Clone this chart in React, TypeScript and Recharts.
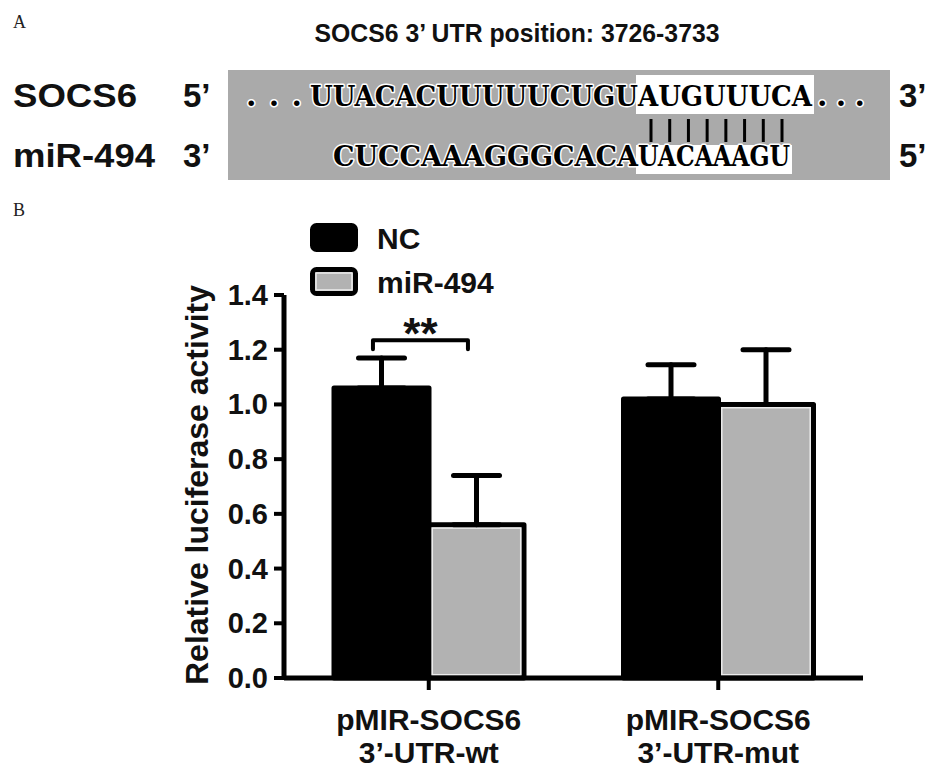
import React from 'react';
import { BarChart, Bar, XAxis, YAxis, ErrorBar, Legend } from 'recharts';

// ---------- data ----------
const categoryKeys = ['wt', 'mut'];
const categoryLine1 = ['pMIR-SOCS6', 'pMIR-SOCS6'];
const categoryLine2 = ['3\u2019-UTR-wt', '3\u2019-UTR-mut'];
const seriesNames = ['NC', 'miR-494'];
const ncValues = [1.06, 1.02];
const ncErrors = [0.11, 0.125];
const mirValues = [0.56, 1.0];
const mirErrors = [0.18, 0.2];
const yTicks = [0, 0.2, 0.4, 0.6, 0.8, 1.0, 1.2, 1.4];
const significance = [{ category: 'wt', level: 1.235, label: '**' }];

const panelTitle = 'SOCS6 3\u2019 UTR position: 3726-3733';
const rowLabels = ['SOCS6', 'miR-494'];
const rowLeftEnds = ['5\u2019', '3\u2019'];
const rowRightEnds = ['3\u2019', '5\u2019'];
const targetFlankLeft = 'UUACACUUUUUCUGU';
const targetSeed = 'AUGUUUCA';
const mirFlank = 'CUCCAAAGGGCACA';
const mirSeed = 'UACAAAGU';

const data = categoryKeys.map((c, i) => ({
  cat: c,
  nc: ncValues[i],
  ncErr: [0, ncErrors[i]],
  mir: mirValues[i],
  mirErr: [0, mirErrors[i]],
}));

const SANS = "'Liberation Sans', Arial, Helvetica, sans-serif";
const NARROW = "'Liberation Sans Narrow', 'Liberation Sans', Arial, sans-serif";
const SERIF = "'Liberation Serif', 'Times New Roman', serif";
const SLAB = "'DejaVu Serif', serif";

const NcShape = (props: any) => {
  const { x, y, width, height, value, payload } = props;
  const v = Array.isArray(value) ? value[1] - value[0] : value;
  const base = y + height;
  const ppu = height / v;
  const sig = significance.find((s) => s.category === payload.cat);
  let bracket = null;
  if (sig) {
    const by = base - sig.level * ppu;
    const x1 = x + width / 2 - 0.09 * width;
    const x2 = x1 + width;
    const drop = 0.033 * ppu;
    bracket = (
      <g>
        <path
          d={`M${x1},${by + drop} L${x1},${by} L${x2},${by} L${x2},${by + drop}`}
          fill="none"
          stroke="#000"
          strokeWidth={4}
          strokeLinejoin="round"
          strokeLinecap="round"
        />
        <text
          x={(x1 + x2) / 2}
          y={by + 9}
          textAnchor="middle"
          fontFamily={SANS}
          fontWeight="bold"
          fontSize={44}
          fill="#111"
        >
          {sig.label}
        </text>
      </g>
    );
  }
  return (
    <g>
      <rect x={x} y={y} width={width} height={height} fill="#000" stroke="#000" strokeWidth={5} strokeLinejoin="round" />
      {bracket}
    </g>
  );
};

const MirShape = (props: any) => {
  const { x, y, width, height } = props;
  return (
    <g>
      <rect x={x} y={y} width={width} height={height} fill="#b2b2b2" stroke="#000" strokeWidth={5} strokeLinejoin="round" />
      <rect x={x + 3.3} y={y + 3.3} width={width - 6.6} height={height - 6.6} fill="none" stroke="#ececec" strokeWidth={1.5} />
    </g>
  );
};

const YTick = (props: any) => {
  const { x, y, payload } = props;
  return (
    <text x={x} y={y} textAnchor="end" dominantBaseline="central" fontFamily={SANS} fontWeight="bold" fontSize={29} fill="#111">
      {Number(payload.value).toFixed(1)}
    </text>
  );
};

const XTick = (props: any) => {
  const { x, y, payload } = props;
  const i = categoryKeys.indexOf(payload.value);
  return (
    <text x={x} y={y} textAnchor="middle" fontFamily={SANS} fontWeight="bold" fontSize={30} fill="#111">
      <tspan x={x} dy={38}>{categoryLine1[i]}</tspan>
      <tspan x={x} dy={33}>{categoryLine2[i]}</tspan>
    </text>
  );
};

const LegendContent = () => (
  <svg width={220} height={90}>
    <rect x={4.5} y={6.5} width={43} height={24} rx={4} fill="#000" stroke="#000" strokeWidth={5} />
    <text x={69} y={19} dominantBaseline="central" fontFamily={SANS} fontWeight="bold" fontSize={30} fill="#111">
      {seriesNames[0]}
    </text>
    <rect x={4.5} y={50.5} width={43} height={24} rx={4} fill="#b2b2b2" stroke="#000" strokeWidth={5} />
    <rect x={8} y={54} width={36} height={17} fill="none" stroke="#ececec" strokeWidth={1.5} />
    <text x={69} y={63} dominantBaseline="central" fontFamily={SANS} fontWeight="bold" fontSize={30} fill="#111">
      {seriesNames[1]}
    </text>
  </svg>
);

const PanelA = () => {
  const pairCount = Math.min(targetSeed.length, mirSeed.length);
  const pairs = [];
  for (let i = 0; i < pairCount; i++) {
    const px = 651 + (i * (782 - 651)) / (pairCount - 1);
    pairs.push(<line key={i} x1={px} x2={px} y1={119} y2={142} stroke="#000" strokeWidth={3} />);
  }
  const seqStyle = {
    fontFamily: SLAB,
    fontWeight: 'bold' as const,
    fontSize: 28,
    fill: '#000',
    stroke: '#fff',
    strokeWidth: 3,
    paintOrder: 'stroke' as const,
    strokeLinejoin: 'round' as const,
  };
  const dotStyle = { ...seqStyle, fontSize: 30 };
  const r1 = 106; // baseline row 1
  const r2 = 166; // baseline row 2
  const lab = { fontFamily: SANS, fontWeight: 'bold' as const, fontSize: 33, fill: '#111' };
  return (
    <svg width={945} height={783} style={{ position: 'absolute', left: 0, top: 0, pointerEvents: 'none' }}>
      <text x={13} y={28} fontFamily={SERIF} fontSize={18} fill="#222">A</text>
      <text x={517} y={42} textAnchor="middle" fontFamily={NARROW} fontWeight="bold" fontSize={25} textLength={405} lengthAdjust="spacingAndGlyphs" fill="#111">
        {panelTitle}
      </text>
      <rect x={228} y={70} width={662} height={110} fill="#aaaaaa" />
      <rect x={636} y={75} width={178} height={39} fill="#fff" />
      <rect x={636} y={145} width={156} height={29} fill="#fff" />
      <text x={246} y={r1} textLength={56} lengthAdjust="spacing" style={dotStyle}>...</text>
      <text x={310} y={r1} textLength={328} lengthAdjust="spacingAndGlyphs" style={seqStyle}>{targetFlankLeft}</text>
      <text x={638} y={r1} textLength={174} lengthAdjust="spacingAndGlyphs" style={seqStyle}>{targetSeed}</text>
      <text x={817} y={r1} textLength={48} lengthAdjust="spacing" style={dotStyle}>...</text>
      <text x={333} y={r2} textLength={305} lengthAdjust="spacingAndGlyphs" style={seqStyle}>{mirFlank}</text>
      <text x={638} y={r2} textLength={152} lengthAdjust="spacingAndGlyphs" style={seqStyle}>{mirSeed}</text>
      {pairs}
      <text x={13} y={r1 + 1} textLength={124} lengthAdjust="spacingAndGlyphs" {...lab}>{rowLabels[0]}</text>
      <text x={183} y={r1 + 1} {...lab}>{rowLeftEnds[0]}</text>
      <text x={899} y={r1 + 1} {...lab}>{rowRightEnds[0]}</text>
      <text x={13} y={r2 + 1} textLength={142} lengthAdjust="spacingAndGlyphs" {...lab}>{rowLabels[1]}</text>
      <text x={183} y={r2 + 1} {...lab}>{rowLeftEnds[1]}</text>
      <text x={899} y={r2 + 1} {...lab}>{rowRightEnds[1]}</text>
      <text x={13} y={216} fontFamily={SERIF} fontSize={18} fill="#222">B</text>
      <text
        x={0}
        y={0}
        transform="translate(208,485) rotate(-90)"
        textAnchor="middle"
        fontFamily={SANS}
        fontWeight="bold"
        fontSize={31}
        textLength={400}
        lengthAdjust="spacingAndGlyphs"
        fill="#111"
      >
        Relative luciferase activity
      </text>
    </svg>
  );
};

export default function App() {
  return (
    <div style={{ position: 'fixed', left: 0, top: 0, width: 945, height: 783, background: '#fff', overflow: 'hidden' }}>
      <BarChart
        width={945}
        height={783}
        data={data}
        margin={{ top: 295, right: 82, left: 0, bottom: 0 }}
        barGap={0}
        barSize={95}
        style={{ position: 'absolute', left: 0, top: 0 }}
      >
        <XAxis
          dataKey="cat"
          height={105}
          tick={<XTick />}
          tickSize={12}
          axisLine={{ stroke: '#000', strokeWidth: 5 }}
          tickLine={{ stroke: '#000', strokeWidth: 4 }}
          interval={0}
        />
        <YAxis
          width={284}
          domain={[0, 1.4]}
          ticks={yTicks}
          tick={<YTick />}
          tickSize={10}
          tickMargin={6}
          axisLine={{ stroke: '#000', strokeWidth: 5 }}
          tickLine={{ stroke: '#000', strokeWidth: 4 }}
          interval={0}
        />
        <Legend
          layout="horizontal"
          verticalAlign="middle"
          align="center"
          wrapperStyle={{ position: 'absolute', left: 308, top: 219, width: 220, height: 90 }}
          content={<LegendContent />}
        />
        <Bar dataKey="nc" name={seriesNames[0]} fill="#000" shape={<NcShape />} isAnimationActive={false}>
          <ErrorBar dataKey="ncErr" direction="y" width={23} stroke="#000" strokeWidth={5} strokeLinecap="round" />
        </Bar>
        <Bar dataKey="mir" name={seriesNames[1]} fill="#b2b2b2" shape={<MirShape />} isAnimationActive={false}>
          <ErrorBar dataKey="mirErr" direction="y" width={23} stroke="#000" strokeWidth={5} strokeLinecap="round" />
        </Bar>
      </BarChart>
      <PanelA />
    </div>
  );
}
